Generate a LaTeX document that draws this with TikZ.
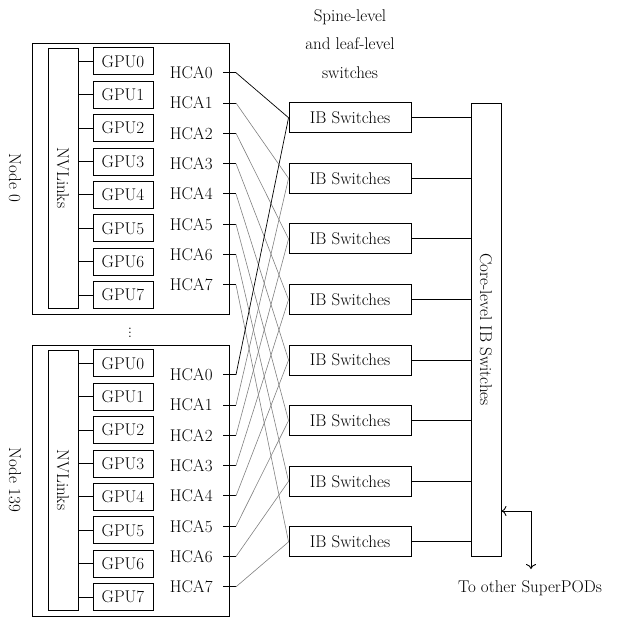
\documentclass[tikz,border=0pt]{standalone}
\usepackage{tikz}
\usetikzlibrary{arrows.meta}
\usepackage{xcolor}
\usepackage{amsmath, amssymb}

\begin{document}
\begin{tikzpicture}[x=1pt, y=-1pt, line width=0.9pt, font=\fontsize{17}{20}\selectfont,
    >={To[length=5pt, width=10pt]}]
    \tikzset{
        caixa/.style={draw, inner sep=0pt},
        gpubox/.style={caixa, minimum width=60, minimum height=27},
        swbox/.style={caixa, minimum width=122, minimum height=30},
        link/.style={line width=0.6pt, draw=gray},
        linkzero/.style={line width=0.7pt, draw=black}
    }
    \useasboundingbox (0, 0) rectangle (623, 620);

    % Switches spine/leaf
    \node[align=center, font=\fontsize{17}{28.5}\selectfont] (spine) at (350, 44) {Spine-level\\and leaf-level\\switches};
    \foreach \i in {0,...,7}
        \node[swbox] (sw\i) at (350, 117.7+60.6*\i) {IB Switches};

    % Core
    \node[caixa, rotate=-90, minimum width=453, minimum height=30] (core) at (486, 329.5) {Core-level IB Switches};
    \foreach \i in {0,...,7}
        \draw (sw\i.east) -- (sw\i.east -| core.south);

    % Nos
    \foreach \n/\off in {0/0, 139/302} {
        \node[caixa, minimum width=197, minimum height=271] (srv\n) at (130.5, 178.5+\off) {};
        \node[caixa, rotate=-90, minimum width=260, minimum height=30] (nv\n) at (63, 178+\off) {NVLinks};
        \node[rotate=-90] (lbl\n) at (15, 178+\off) {Node \n};
        \foreach \i in {0,...,7} {
            \node[gpubox] (gpu\n-\i) at (123, 61.3+33.4*\i+\off) {GPU\i};
            \draw (gpu\n-\i.west) -- (gpu\n-\i.west -| nv\n.north);
            \node[anchor=east, inner sep=0pt] (hca\n-\i) at (213, 72.7+30.3*\i+\off) {HCA\i};
            \coordinate (tick\n-\i) at (223, 72.7+30.3*\i+\off);
            \coordinate (port\n-\i) at (236, 72.7+30.3*\i+\off);
            \draw (tick\n-\i) -- (port\n-\i);
        }
    }
    \node (dots) at (130, 330) {$\vdots$};

    % Ligacoes HCA -> switches
    \foreach \n in {0, 139}
        \foreach \i in {1,...,7}
            \draw[link] (port\n-\i) -- (sw\i.west);
    \foreach \n in {0, 139}
        \draw[linkzero] (port\n-0) -- (sw0.west);

    % Outros SuperPODs
    \node (pods) at (530, 588) {To other SuperPODs};
    \coordinate (podturn) at (531, 511);
    \coordinate (podend) at (531, 569);
    \draw[<->] (core.north |- podturn) -| (podend);
\end{tikzpicture}
\end{document}
